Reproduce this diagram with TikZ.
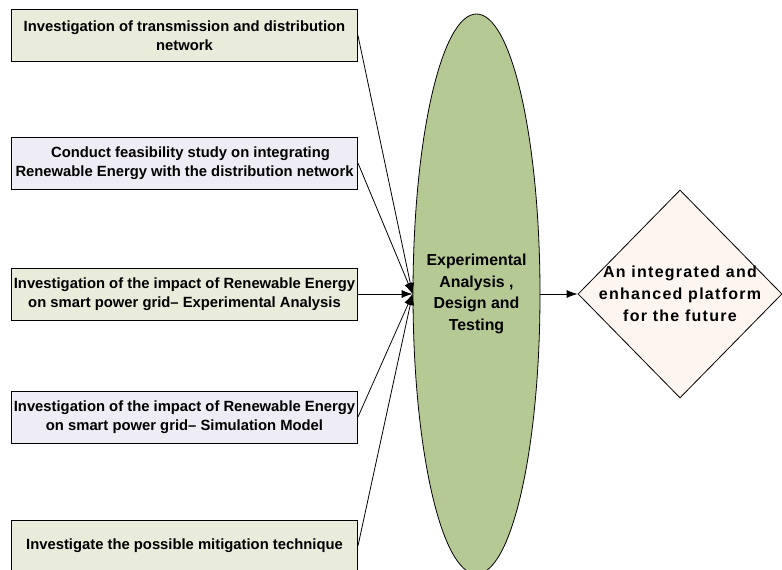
\documentclass[tikz,border=0pt]{standalone}
\usepackage{fontspec}
\setmainfont{Liberation Sans}
\usetikzlibrary{shapes.geometric,arrows.meta}
\definecolor{boxgreen}{HTML}{E9ECDA}
\definecolor{boxlilac}{HTML}{EEECF4}
\definecolor{ovalgreen}{HTML}{B5C994}
\definecolor{diapeach}{HTML}{FDF5F0}
\tikzset{
	taskbox/.style = {draw, line width=0.9pt, minimum width=346pt, minimum height=52pt,
		inner sep=0pt, align=center, font=\fontsize{14.8}{19}\selectfont\bfseries},
	feed/.style = {line width=0.8pt, -{Latex[length=11pt,width=8pt]}}
}
\begin{document}
\begin{tikzpicture}[x=1pt, y=1pt]
		\useasboundingbox (0,0) rectangle (782,570);
		\clip (0,0) rectangle (782,570);
		\node[taskbox, fill=boxgreen] (b1) at (184.5, 534.5) {Investigation of transmission and distribution\\network};
		\node[taskbox, fill=boxlilac] (b2) at (184.5, 407) {\hspace*{12pt}Conduct feasibility study on integrating\\Renewable Energy with the distribution network};
		\node[taskbox, fill=boxgreen] (b3) at (184.5, 276) {Investigation of the impact of Renewable Energy\\on smart power grid-- Experimental Analysis};
		\node[taskbox, fill=boxlilac] (b4) at (184.5, 153) {Investigation of the impact of Renewable Energy\\on smart power grid-- Simulation Model};
		\node[taskbox, fill=boxgreen] (b5) at (184.5, 24) {Investigate the possible mitigation technique};
		\node[ellipse, draw, line width=0.8pt, fill=ovalgreen, minimum width=127pt, minimum height=560pt,
			inner sep=-10pt, align=center, font=\fontsize{15.9}{21.5}\selectfont\bfseries] (exp) at (476.5, 276)
			{Experimental\\Analysis ,\\Design and\\Testing};
		\node[diamond, draw, line width=0.8pt, fill=diapeach, minimum width=204pt, minimum height=208pt,
			inner sep=-25pt, align=center, font=\fontsize{16}{22}\selectfont\bfseries\addfontfeature{LetterSpace=8}] (plat) at (680, 276)
			{An integrated and\\enhanced platform\\for the future};
		\foreach \b in {b1, b2, b3, b4, b5}
		{
			\draw[feed] (\b.east) -- (exp.west);
		}
		\draw[feed] (exp.east) -- (plat.west);
\end{tikzpicture}
\end{document}
